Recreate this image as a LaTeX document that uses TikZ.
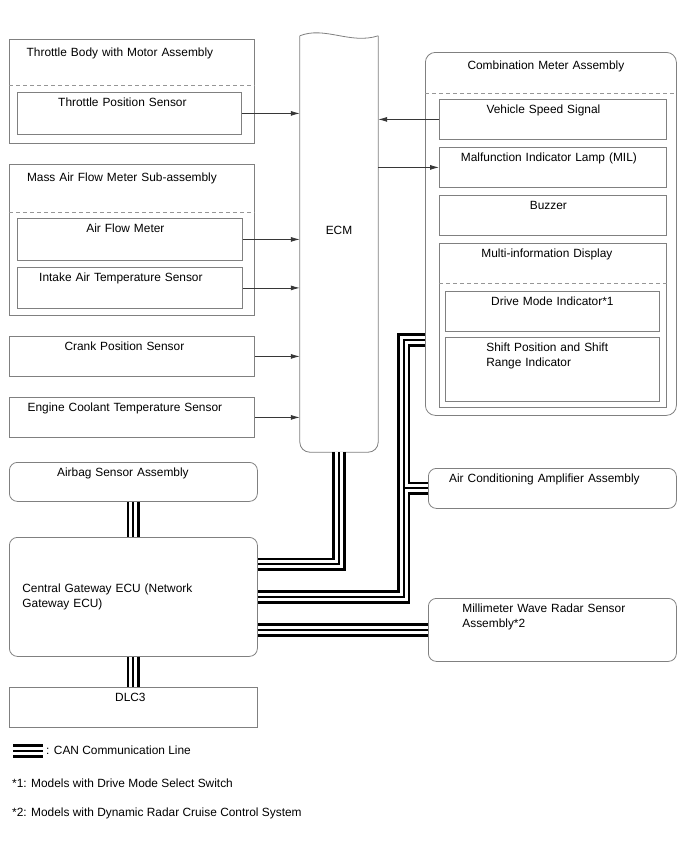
\documentclass[tikz,border=0pt]{standalone}
\usepackage{fontspec}
\setmainfont{Liberation Sans}
\usetikzlibrary{arrows.meta}
\definecolor{boxgray}{RGB}{128,128,128}
\definecolor{dashgray}{RGB}{150,150,150}
\definecolor{wiregray}{RGB}{55,55,55}

\begin{document}
\begin{tikzpicture}[x=1pt, y=-1pt,
        every node/.style={font=\fontsize{11.9}{15}\selectfont},
        block/.style={draw=boxgray, line width=0.8pt, anchor=north west, inner xsep=0pt, inner ysep=4pt, align=center, text width=#1},
        toptext/.style={text height=10pt, text depth=#1},
        title/.style={text height=13pt, text depth=#1},
        nudge/.style={execute at end node={\hspace*{#1}}},
        softcorner/.style={rounded corners=8pt},
        divider/.style={draw=dashgray, line width=0.8pt, dash pattern=on 4pt off 3pt},
        arrow/.style={-{Latex[length=9pt, width=5pt]}, draw=wiregray, line width=0.8pt},
        can/.style={draw=black, line width=13.4pt, postaction={draw=white, line width=8pt}, postaction={draw=black, line width=2pt}}
    ]
    \useasboundingbox (0,0) rectangle (688,852);

    % Engine side sensors
    \node[block=245pt, title=83pt, nudge=24pt] (tb) at (9,39) {Throttle Body with Motor Assembly};
    \node[block=224pt, toptext=24pt, nudge=14pt] (tps) at (17,92) {Throttle Position Sensor};
    \draw[divider] ([yshift=-46pt]tb.north west) -- ([yshift=-46pt]tb.north east);

    \node[block=245pt, title=130pt, nudge=20pt] (maf) at (9,164) {Mass Air Flow Meter Sub-assembly};
    \node[block=225pt, toptext=24pt, nudge=9pt] (afm) at (17,218) {Air Flow Meter};
    \node[block=225pt, toptext=23pt, nudge=18pt] (iat) at (17,267) {Intake Air Temperature Sensor};
    \draw[divider] ([yshift=-48pt]maf.north west) -- ([yshift=-48pt]maf.north east);

    \node[block=245pt, toptext=22pt, nudge=15pt] (ckp) at (9,336) {Crank Position Sensor};
    \node[block=245pt, toptext=22pt, nudge=14pt] (ect) at (9,397) {Engine Coolant Temperature Sensor};

    % ECM
    \node[minimum width=78pt, minimum height=416pt, inner sep=0pt, text height=8.5pt, text depth=28pt] (ecm) at (339,244) {ECM};
    \draw[draw=boxgray, line width=0.8pt] (ecm.north west) .. controls +(25,-10) and +(-28,9) .. (ecm.north east);
    \draw[draw=boxgray, line width=0.8pt, rounded corners=10pt] (ecm.north east) -- (ecm.south east) -- (ecm.south west) -- (ecm.north west);

    \draw[arrow] (tps.east) -- (tps.east -| ecm.west);
    \draw[arrow] (afm.east) -- (afm.east -| ecm.west);
    \draw[arrow] (iat.east) -- (iat.east -| ecm.west);
    \draw[arrow] (ckp.east) -- (ckp.east -| ecm.west);
    \draw[arrow] (ect.east) -- (ect.east -| ecm.west);

    % Combination meter
    \node[block=251pt, title=342pt, nudge=10pt, rounded corners=10pt] (meter) at (425,52) {Combination Meter Assembly};
    \draw[divider] ([yshift=-41pt]meter.north west) -- ([yshift=-41pt]meter.north east);
    \node[block=227pt, toptext=22pt, nudge=19pt] (spd) at (439,99) {Vehicle Speed Signal};
    \node[block=227pt, toptext=22pt, nudge=8pt] (mil) at (439,147) {Malfunction Indicator Lamp (MIL)};
    \node[block=227pt, toptext=22pt, nudge=9pt] (buz) at (439,195) {Buzzer};
    \node[block=227pt, toptext=146pt, nudge=12pt] (mid) at (439,243) {Multi-information Display};
    \draw[divider] ([yshift=-40pt]mid.north west) -- ([yshift=-40pt]mid.north east);
    \node[block=214pt, toptext=22pt] (dmi) at (445,291) {Drive Mode Indicator*1};
    \node[block=132pt, toptext=46pt, inner xsep=41pt, align=left] (sft) at (445,337) {Shift Position and Shift\\Range Indicator};

    \draw[arrow] (spd.west) -- (spd.west -| ecm.east);
    \draw[arrow] (mil.west -| ecm.east) -- (mil.west);

    % Other ECUs on the bus
    \node[block=248pt, toptext=22pt, nudge=16pt, softcorner] (ac) at (428,468) {Air Conditioning Amplifier Assembly};
    \node[block=180pt, toptext=45pt, inner xsep=34pt, align=left, softcorner] (mwr) at (428,598) {Millimeter Wave Radar Sensor\\Assembly*2};
    \node[block=248pt, toptext=21pt, nudge=21pt, softcorner] (air) at (9,462) {Airbag Sensor Assembly};
    \node[block=222pt, inner xsep=13pt, align=left, minimum height=119pt, softcorner] (gw) at (9,537) {Central Gateway ECU (Network\\Gateway ECU)};
    \node[block=248pt, toptext=22pt, nudge=6pt] (dlc) at (9,687) {DLC3};

    % CAN lines
    \coordinate (bus) at ([xshift=-21.5pt, yshift=-106pt]meter.west);
    \coordinate (legA) at (13,751);
    \coordinate (legB) at (43,751);
    \draw[can] (ecm.south) |- ([yshift=32.5pt]gw.east)
        ([yshift=-106pt]meter.west) -- (bus) |- (gw.east)
        (ac.west) -- (ac.west -| bus)
        (gw.east |- mwr.west) -- (mwr.west)
        (air.south) -- (gw.north)
        (gw.south) -- (dlc.north)
        (legA) -- (legB);

    % Legend
    \node[anchor=west, inner sep=0pt] (legtxt) at (46,750) {: CAN Communication Line};
    \node[anchor=west, inner sep=0pt] (note1) at (12,783) {*1: Models with Drive Mode Select Switch};
    \node[anchor=west, inner sep=0pt] (note2) at (12,813) {*2: Models with Dynamic Radar Cruise Control System};

\end{tikzpicture}
\end{document}
